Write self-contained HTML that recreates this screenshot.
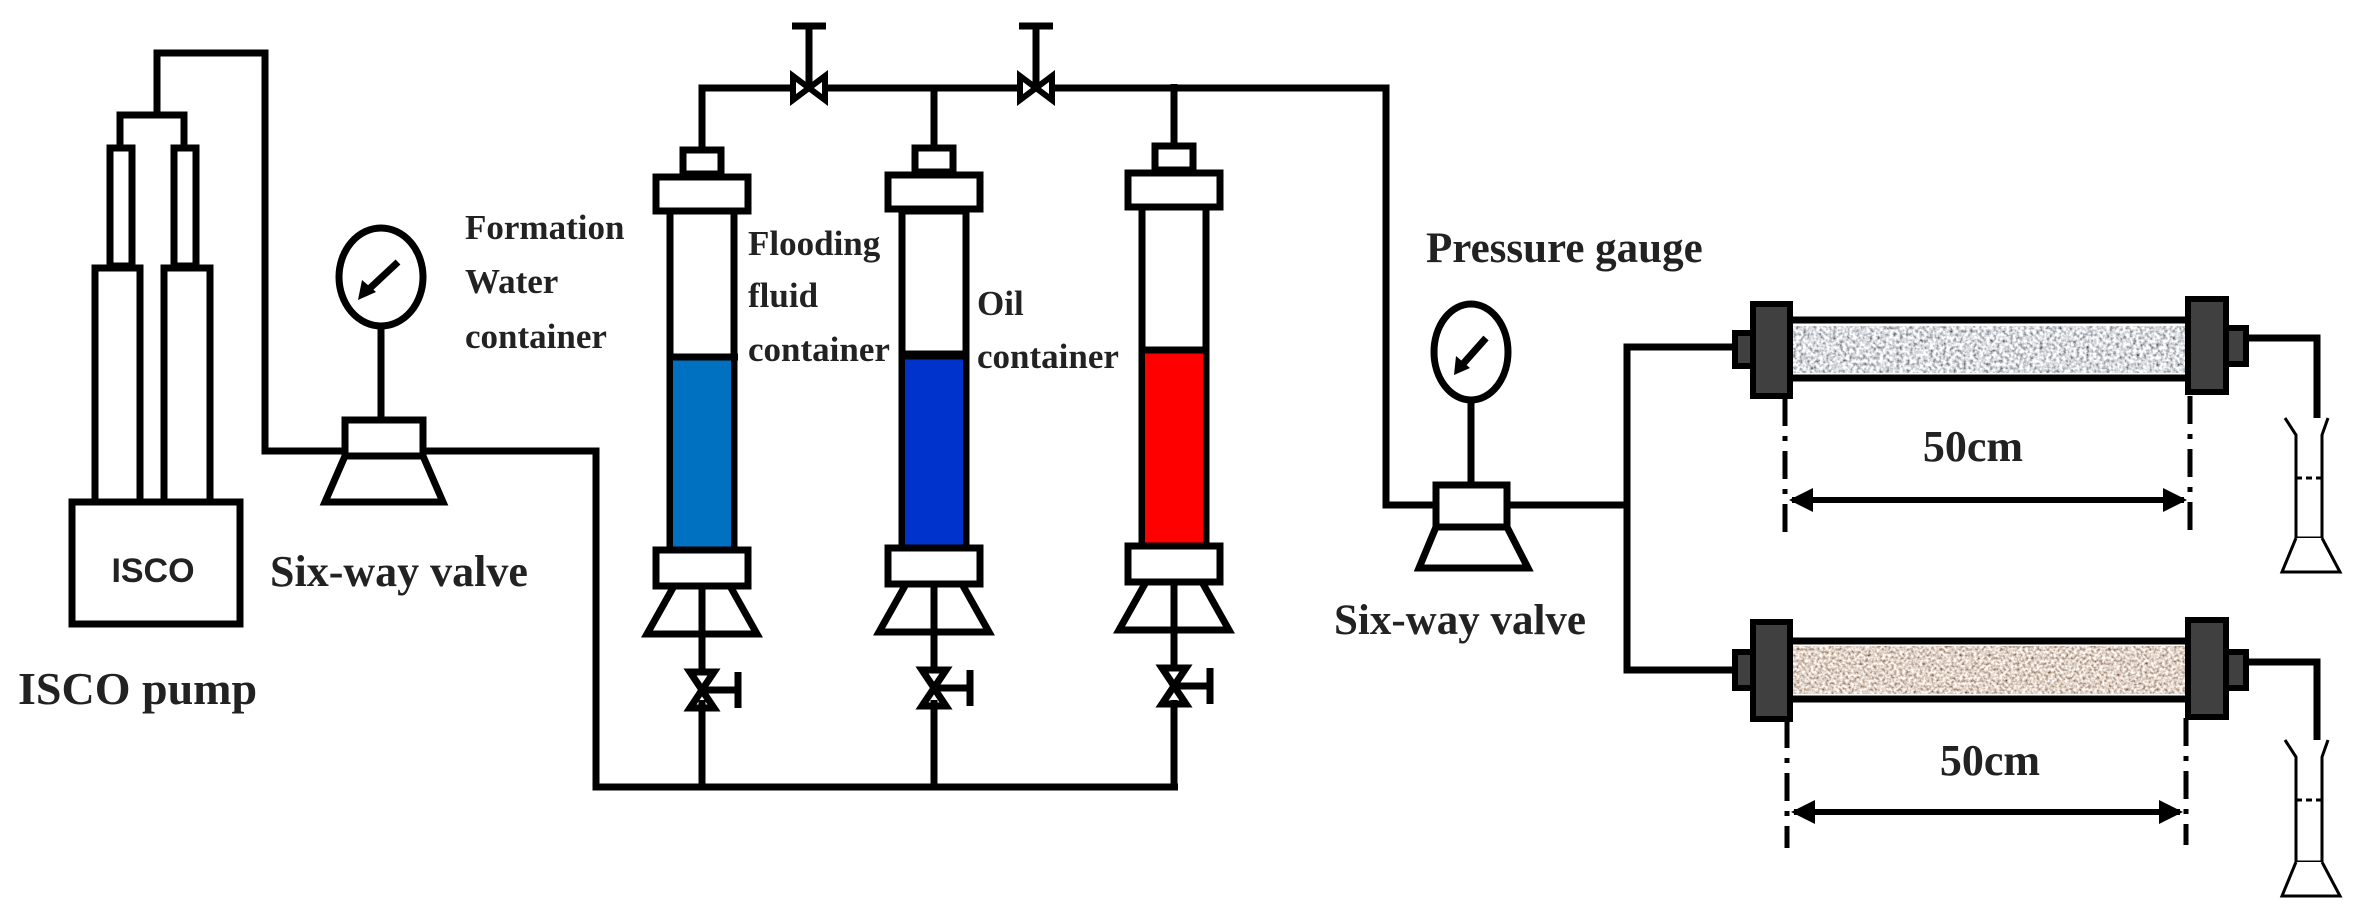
<!DOCTYPE html>
<html><head><meta charset="utf-8"><style>
html,body{margin:0;padding:0;background:#fff;}
svg{display:block;}
text{font-family:"Liberation Serif",serif;font-weight:bold;fill:#222;}
</style></head><body>
<svg width="2366" height="924" viewBox="0 0 2366 924" xmlns="http://www.w3.org/2000/svg">
<defs>
<filter id="grey" x="0" y="0" width="100%" height="100%">
<feTurbulence type="fractalNoise" baseFrequency="0.3" numOctaves="2" seed="3"/>
<feColorMatrix type="matrix" values="1.8 0 0 0 -0.2  1.8 0 0 0 -0.18  1.8 0 0 0 -0.15  0 0 0 0 1"/>
</filter>
<filter id="tan" x="0" y="0" width="100%" height="100%">
<feTurbulence type="fractalNoise" baseFrequency="0.35" numOctaves="2" seed="7"/>
<feColorMatrix type="matrix" values="1.6 0 0 0 -0.05  1.6 0 0 0 -0.15  1.6 0 0 0 -0.22  0 0 0 0 1"/>
</filter>
<marker id="ah" markerWidth="4" markerHeight="4" refX="3.5" refY="2" orient="auto-start-reverse" markerUnits="strokeWidth"><path d="M0,0 L4,2 L0,4 z" fill="#000"/></marker>
<g id="cont">
<line x1="0" y1="88" x2="0" y2="150" />
<rect x="-19" y="150" width="38" height="24" fill="#fff"/>
<rect x="-46" y="177" width="92" height="34" fill="#fff"/>
<line x1="0" y1="586" x2="0" y2="787"/>
<rect x="-46" y="550" width="92" height="36" fill="#fff"/>
<path d="M-28,586 L28,586 L55,634 L-55,634 Z" fill="none"/>
<path d="M-12,672 L12,672 L0,690 Z M-12,708 L12,708 L0,690 Z" fill="#fff"/>
<line x1="0" y1="690" x2="36" y2="690"/><line x1="36" y1="672" x2="36" y2="708"/>
</g>
</defs>
<g stroke="#000" stroke-width="7" fill="none" stroke-linejoin="miter">
<polyline points="157,115 157,53 265,53 265,451 345,451"/>
<polyline points="120,146 120,115 184,115 184,146"/>
<rect x="110" y="148" width="22" height="118" fill="#fff"/>
<rect x="174" y="148" width="22" height="118" fill="#fff"/>
<rect x="95" y="268" width="45" height="234" fill="#fff"/>
<rect x="164" y="268" width="46" height="234" fill="#fff"/>
<rect x="72" y="502" width="168" height="122" fill="#fff"/>
<ellipse cx="381" cy="277" rx="42" ry="49"/>
<line x1="381" y1="326" x2="381" y2="420"/>
<rect x="345" y="420" width="78" height="36" fill="#fff"/>
<path d="M345,456 L423,456 L443,502 L325,502 Z"/>
<polyline points="423,451 596,451 596,787 1178,787"/>
<polyline points="702,150 702,88 1386,88 1386,505 1436,505"/>
<line x1="934" y1="88" x2="934" y2="146"/>
<line x1="1174" y1="88" x2="1174" y2="146"/>
<g transform="translate(702,0)">
<rect x="-32" y="211" width="64" height="339" fill="#fff"/>
<rect x="-29" y="358" width="58" height="190" fill="#0070c0" stroke="none"/>
<line x1="-32" y1="357" x2="36" y2="357"/>
<use href="#cont"/></g>
<g transform="translate(934,0)">
<rect x="-32" y="211" width="64" height="339" fill="#fff"/>
<rect x="-29" y="358" width="58" height="190" fill="#0033cc" stroke="none"/>
<line x1="-32" y1="355" x2="32" y2="355" stroke-width="9"/>
<use href="#cont" transform="translate(0,-2)"/></g>
<g transform="translate(1174,-4)">
<rect x="-32" y="211" width="64" height="339" fill="#fff"/>
<rect x="-29" y="356" width="58" height="192" fill="#ff0000" stroke="none"/>
<line x1="-32" y1="354" x2="32" y2="354"/>
<use href="#cont"/></g>
<line x1="702" y1="700" x2="702" y2="787"/>
<line x1="934" y1="700" x2="934" y2="787"/>
<line x1="1174" y1="700" x2="1174" y2="787"/>
<path d="M793,76 L793,100 L825,76 L825,100 Z" fill="#fff" stroke-width="6"/>
<line x1="809" y1="88" x2="809" y2="26"/><line x1="792" y1="26" x2="826" y2="26"/>
<path d="M1020,76 L1020,100 L1052,76 L1052,100 Z" fill="#fff" stroke-width="6"/>
<line x1="1036" y1="88" x2="1036" y2="26"/><line x1="1019" y1="26" x2="1053" y2="26"/>
<ellipse cx="1471" cy="352" rx="37" ry="48"/>
<line x1="1471" y1="400" x2="1471" y2="485"/>
<rect x="1436" y="485" width="71" height="42" fill="#fff"/>
<path d="M1436,527 L1507,527 L1528,568 L1419,568 Z"/>
<polyline points="1507,505 1627,505"/>
<polyline points="1732,347 1627,347 1627,670 1732,670"/>
<polyline points="2246,338 2317,338 2317,426"/>
<polyline points="2246,662 2317,662 2317,750"/>
</g>
<rect x="1790" y="326" width="398" height="47" filter="url(#grey)"/>
<rect x="1790" y="646" width="398" height="48" filter="url(#tan)"/>
<g stroke="#000" stroke-width="7" fill="none">
<line x1="1790" y1="320" x2="2188" y2="320"/><line x1="1790" y1="378" x2="2188" y2="378"/>
<line x1="1790" y1="641" x2="2188" y2="641"/><line x1="1790" y1="699" x2="2188" y2="699"/>
</g>
<g fill="#404040" stroke="#000" stroke-width="6">
<rect x="1735" y="333" width="20" height="33"/>
<rect x="1753" y="304" width="37" height="92"/>
<rect x="2188" y="299" width="38" height="93"/>
<rect x="2226" y="328" width="20" height="36"/>
<rect x="1735" y="652" width="20" height="36"/>
<rect x="1753" y="622" width="37" height="97"/>
<rect x="2188" y="620" width="38" height="97"/>
<rect x="2226" y="652" width="20" height="36"/>
</g>
<g stroke="#000" stroke-width="7"><line x1="398" y1="262" x2="368" y2="290"/><line x1="1486" y1="338" x2="1462" y2="365"/></g>
<path d="M358,300 L362,280 L376,292 Z M1454,375 L1456,356 L1470,368 Z" fill="#000"/>
<g stroke="#000" stroke-width="5" stroke-dasharray="28,10,5,10">
<line x1="1785" y1="398" x2="1785" y2="535"/><line x1="2190" y1="396" x2="2190" y2="532"/>
<line x1="1787" y1="720" x2="1787" y2="848"/><line x1="2186" y1="718" x2="2186" y2="845"/>
</g>
<g stroke="#000" stroke-width="6">
<line x1="1792" y1="500" x2="2184" y2="500" marker-start="url(#ah)" marker-end="url(#ah)"/>
<line x1="1794" y1="812" x2="2180" y2="812" marker-start="url(#ah)" marker-end="url(#ah)"/>
</g>
<g stroke="#000" stroke-width="3" fill="#fff">
<path d="M2285,418 L2296,435 L2296,538 L2322,538 L2322,435 L2328,418"/>
<path d="M2296,538 L2282,572 L2340,572 L2322,538"/>
<line x1="2296" y1="478" x2="2322" y2="478" stroke-dasharray="6,4"/>
<path d="M2285,740 L2296,757 L2296,862 L2322,862 L2322,757 L2328,740"/>
<path d="M2296,862 L2282,896 L2340,896 L2322,862"/>
<line x1="2296" y1="800" x2="2322" y2="800" stroke-dasharray="6,4"/>
</g>
<text x="153" y="582" font-size="34" text-anchor="middle" style="font-family:'Liberation Sans',sans-serif">ISCO</text>
<text x="18" y="704" font-size="46">ISCO pump</text>
<text x="270" y="586" font-size="44">Six-way valve</text>
<text x="465" y="239" font-size="35">Formation</text>
<text x="465" y="293" font-size="35">Water</text>
<text x="465" y="348" font-size="35">container</text>
<text x="748" y="255" font-size="35">Flooding</text>
<text x="748" y="307" font-size="35">fluid</text>
<text x="748" y="361" font-size="35">container</text>
<text x="977" y="315" font-size="35">Oil</text>
<text x="977" y="368" font-size="35">container</text>
<text x="1426" y="262" font-size="43">Pressure gauge</text>
<text x="1334" y="634" font-size="43">Six-way valve</text>
<text x="1973" y="461" font-size="44" text-anchor="middle">50cm</text>
<text x="1990" y="775" font-size="44" text-anchor="middle">50cm</text>
</svg>
</body></html>
